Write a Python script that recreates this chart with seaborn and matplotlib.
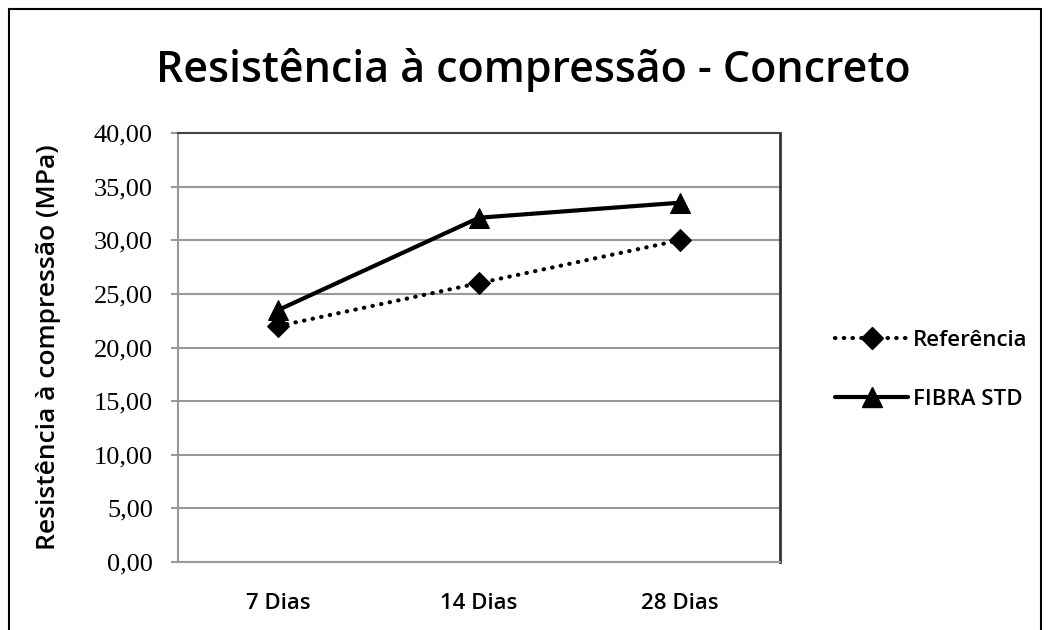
import pandas as pd
import matplotlib
import matplotlib.pyplot as plt
import seaborn as sns

matplotlib.use('Agg')

categorias = ['7 Dias', '14 Dias', '28 Dias']
referencia = [22.0, 26.0, 30.0]
fibra_std = [23.5, 32.1, 33.5]
series = ['Referência', 'FIBRA STD']

df = pd.DataFrame({
    'idade': categorias * 2,
    'resistencia': referencia + fibra_std,
    'serie': [series[0]] * 3 + [series[1]] * 3,
})
df['x'] = df['idade'].map({c: i for i, c in enumerate(categorias)})

sns.set_style('white')
plt.rcParams['font.family'] = ['Open Sans', 'DejaVu Sans']
plt.rcParams['text.color'] = 'black'
plt.rcParams['xtick.color'] = 'black'
plt.rcParams['ytick.color'] = 'black'
plt.rcParams['axes.labelcolor'] = 'black'

fig = plt.figure(figsize=(10.51, 6.3), dpi=100)
ax = fig.add_axes([178 / 1051, 1 - 562 / 630, 602 / 1051, 429 / 630])

sns.lineplot(data=df, x='x', y='resistencia', style='serie', ax=ax,
             color='black', markers={'Referência': 'D', 'FIBRA STD': '^'},
             dashes={'Referência': (0.1, 2.0), 'FIBRA STD': ''},
             markersize=12, linewidth=3, legend=False)
for ln in ax.lines:
    ln.set_markeredgecolor('black')
    ln.set_markerfacecolor('black')
ax.lines[0].set_dash_capstyle('round')
ax.lines[0].set_markersize(11)
ax.lines[1].set_markersize(14)

ax.set_xlim(-0.5, 2.5)
ax.set_ylim(0, 40)
ax.set_yticks(range(0, 41, 5))
ax.set_yticklabels([f'{v},00' for v in range(0, 41, 5)],
                   family='Liberation Serif', fontsize=19)
ax.set_xticks(range(3))
ax.set_xticklabels(categorias, fontsize=16, fontweight='semibold')
ax.yaxis.grid(True, color='#999999', linewidth=1.5)
ax.tick_params(axis='y', left=True, length=5, width=1.5, color='#999999', pad=13)
ax.tick_params(axis='x', length=0, pad=22)
for s in ['left', 'bottom', 'top']:
    ax.spines[s].set_color('#999999')
    ax.spines[s].set_linewidth(1.5)
ax.spines['top'].set_color('#444444')
ax.spines['right'].set_color('#333333')
ax.spines['right'].set_linewidth(2)
ax.set_xlabel('')
ax.set_ylabel('Resistência à compressão (MPa)', fontsize=19,
              fontweight='semibold', labelpad=24)

# legenda
h1 = plt.Line2D([], [], color='black', linestyle=(0, (0.1, 2.0)), linewidth=3,
                marker='D', markersize=11, dash_capstyle='round')
h2 = plt.Line2D([], [], color='black', linewidth=3, marker='^', markersize=14)
fig.legend([h1, h2], series, loc='center left',
           bbox_to_anchor=(815 / 1051, 1 - 370 / 630), frameon=False,
           prop={'size': 16, 'weight': 'semibold'}, handlelength=3.3,
           handletextpad=0.2, labelspacing=1.7)

fig.text(533 / 1051, 1 - 70 / 630, 'Resistência à compressão - Concreto',
         ha='center', va='center', fontsize=31, fontweight='semibold')

fig.add_artist(plt.Rectangle((9 / 1051, -0.05), 1032 / 1051, 1.05 - 9 / 630,
                             transform=fig.transFigure, fill=False,
                             edgecolor='black', linewidth=1.5))

fig.savefig('out.png', dpi=100)
